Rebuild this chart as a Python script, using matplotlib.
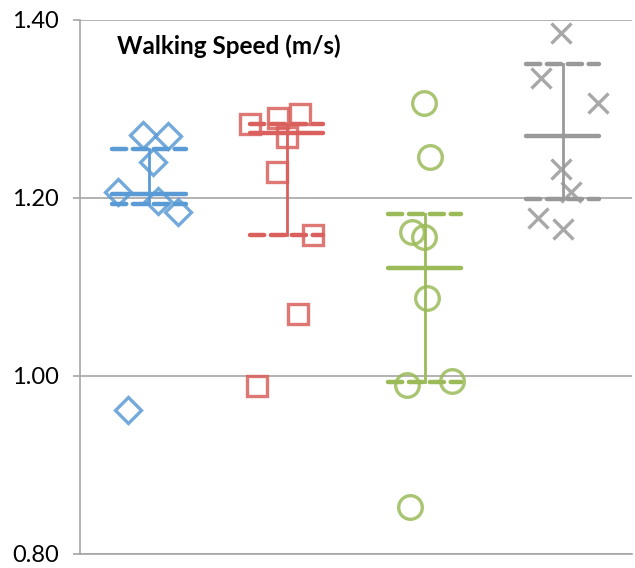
import matplotlib.pyplot as plt

# values (walking speed, m/s)
groups = [1, 2, 3, 4]

blue_x = [0.957, 1.138, 1.029, 0.775, 1.065, 1.210, 0.848]
blue_y = [1.271, 1.269, 1.240, 1.207, 1.197, 1.184, 0.962]

red_x = [1.732, 1.935, 2.094, 2.000, 1.928, 2.188, 2.080, 1.783]
red_y = [1.283, 1.290, 1.294, 1.268, 1.229, 1.158, 1.070, 0.989]

green_x = [2.993, 3.036, 2.906, 2.993, 3.014, 2.870, 3.196, 2.891]
green_y = [1.307, 1.246, 1.162, 1.156, 1.087, 0.990, 0.994, 0.853]

gray_x = [3.986, 3.841, 4.254, 3.986, 4.058, 3.819, 4.000]
gray_y = [1.385, 1.335, 1.307, 1.232, 1.207, 1.177, 1.165]

means = [1.204, 1.273, 1.121, 1.270]
upper = [1.255, 1.283, 1.182, 1.350]
lower = [1.193, 1.158, 0.993, 1.199]

yticks = [0.80, 1.00, 1.20, 1.40]
yticklabels = ['0.80', '1.00', '1.20', '1.40']

colors = ['#5B9BD5', '#D9605C', '#9BBB59', '#999999']
markers = ['D', 's', 'o', 'x']
sizes = [13, 15, 17, 15]

plt.rcParams['font.family'] = ['Lato', 'DejaVu Sans']

fig = plt.figure(figsize=(6.35, 5.68), dpi=100)
ax = fig.add_axes([0.126, 0.025, 0.869, 0.940])

points = [(blue_x, blue_y), (red_x, red_y), (green_x, green_y), (gray_x, gray_y)]
for i, (px, py) in enumerate(points):
    ax.plot(px, py, linestyle='none', marker=markers[i], ms=sizes[i],
            mfc='none', mec=colors[i], mew=2.4, alpha=0.85, clip_on=False, zorder=3)

hw = 0.265
for i, g in enumerate(groups):
    c = colors[i]
    ax.plot([g, g], [lower[i], upper[i]], color=c, lw=2, zorder=4)
    ax.plot([g - hw, g + hw], [means[i], means[i]], color=c, lw=3.2,
            solid_capstyle='round', zorder=4)
    for v in (upper[i], lower[i]):
        ax.plot([g - hw, g + hw], [v, v], color=c, lw=3.2, dashes=(3.2, 1.5),
                dash_capstyle='round', zorder=4)

ax.set_xlim(0.5, 4.5)
ax.set_ylim(0.80, 1.40)
ax.set_xticks([])
ax.set_yticks(yticks)
ax.set_yticklabels(yticklabels)
ax.yaxis.grid(True, color='#A6A6A6', lw=1.2)
ax.set_axisbelow(True)
ax.tick_params(axis='y', length=5, width=1.2, color='#A6A6A6', pad=10, labelsize=17)

for side in ['top', 'right']:
    ax.spines[side].set_visible(False)
ax.spines['left'].set_color('#A6A6A6')
ax.spines['left'].set_linewidth(1.2)
ax.spines['bottom'].set_color('#A6A6A6')
ax.spines['bottom'].set_linewidth(1.2)

ax.text(0.067, 0.95, 'Walking Speed (m/s)', transform=ax.transAxes,
        ha='left', va='center', fontsize=17.5, fontweight='bold')

fig.savefig('out.png', dpi=100)
